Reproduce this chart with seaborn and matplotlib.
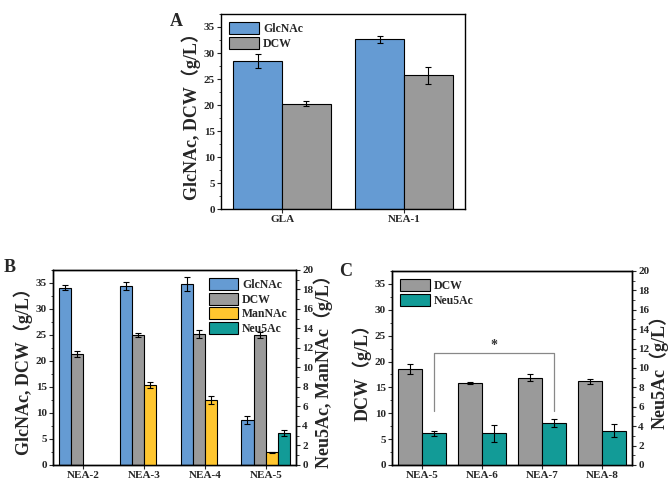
import numpy as np
import pandas as pd
import matplotlib
matplotlib.use("Agg")
import matplotlib.pyplot as plt
from matplotlib.patches import Patch
from matplotlib.ticker import MultipleLocator
import seaborn as sns

# Panel A
a_strains = ["GLA", "NEA-1"]
a_glcnac = [28.5, 32.6]
a_glcnac_err = [1.3, 0.7]
a_dcw = [20.3, 25.7]
a_dcw_err = [0.5, 1.7]

# Panel B (GlcNAc/DCW left axis, ManNAc/Neu5Ac right axis)
b_strains = ["NEA-2", "NEA-3", "NEA-4", "NEA-5"]
b_glcnac = [34.1, 34.4, 34.8, 8.6]
b_glcnac_err = [0.5, 0.8, 1.3, 0.8]
b_dcw = [21.4, 25.0, 25.2, 25.0]
b_dcw_err = [0.6, 0.3, 0.8, 0.5]
b_mannac = [np.nan, 8.2, 6.65, 1.33]
b_mannac_err = [np.nan, 0.3, 0.4, 0.05]
b_neu5ac = [np.nan, np.nan, np.nan, 3.25]
b_neu5ac_err = [np.nan, np.nan, np.nan, 0.3]

# Panel C (DCW left axis, Neu5Ac right axis)
c_strains = ["NEA-5", "NEA-6", "NEA-7", "NEA-8"]
c_dcw = [18.5, 15.8, 16.9, 16.2]
c_dcw_err = [1.0, 0.2, 0.6, 0.5]
c_neu5ac = [3.25, 3.25, 4.3, 3.55]
c_neu5ac_err = [0.3, 0.9, 0.4, 0.7]

colors = {"GlcNAc": "#659BD3", "DCW": "#9A9A9A",
          "ManNAc": "#FFC62F", "Neu5Ac": "#129B97"}

sns.set_style("ticks")
plt.rcParams["font.family"] = ["Liberation Serif", "Noto Sans CJK SC"]
plt.rcParams["font.weight"] = "bold"
plt.rcParams["axes.linewidth"] = 1.0


def long_df(strains, series):
    rows = []
    for name, (vals, errs) in series.items():
        for s, v, e in zip(strains, vals, errs):
            if not np.isnan(v):
                rows.append({"strain": s, "item": name, "val": v, "err": e})
    return pd.DataFrame(rows)


def bars(ax, df, strains, hue_order):
    sns.barplot(data=df, x="strain", y="val", hue="item", order=strains,
                hue_order=hue_order, palette=colors, saturation=1,
                edgecolor="black", linewidth=0.8, errorbar=None, dodge=True,
                legend=False, width=0.8, ax=ax)
    # error bars placed on the drawn bars
    for p in ax.patches:
        h = p.get_height()
        xc = p.get_x() + p.get_width() / 2
        cat = strains[int(round(xc))]
        m = df[(df["strain"] == cat) & np.isclose(df["val"], h)]
        if len(m):
            ax.errorbar(xc, h, yerr=m["err"].iloc[0], fmt="none",
                        ecolor="black", elinewidth=0.8, capsize=2,
                        capthick=0.8, zorder=5)


def style_axis(ax, ylabel, ylim, major, minor, pad=2):
    ax.set_ylim(*ylim)
    ax.yaxis.set_major_locator(MultipleLocator(major))
    ax.yaxis.set_minor_locator(MultipleLocator(minor))
    ax.set_xlabel("")
    ax.set_ylabel(ylabel, fontsize=13, fontweight="bold", labelpad=pad)
    ax.tick_params(axis="both", which="major", direction="out", length=3,
                   width=0.8, labelsize=8, pad=1.5)
    ax.tick_params(axis="y", which="minor", direction="out", length=1.8,
                   width=0.6)
    for lab in ax.get_xticklabels() + ax.get_yticklabels():
        lab.set_fontweight("bold")
    for sp in ax.spines.values():
        sp.set_visible(True)
        sp.set_color("black")


def legend(ax, names, loc, anchor):
    handles = [Patch(facecolor=colors[n], edgecolor="black", linewidth=0.8,
                     label=n) for n in names]
    ax.legend(handles=handles, loc=loc, bbox_to_anchor=anchor, frameon=False,
              prop={"family": "Liberation Serif", "weight": "bold", "size": 8.5},
              handlelength=2.5, handleheight=1.15, labelspacing=0.15,
              handletextpad=0.35, borderaxespad=0.3)


fig = plt.figure(figsize=(6.72, 4.82), dpi=100)
ylab_left = "GlcNAc, DCW（g/L）"

# ---- A ----
axA = fig.add_axes([0.329, 0.566, 0.363, 0.405])
dfA = long_df(a_strains, {"GlcNAc": (a_glcnac, a_glcnac_err),
                          "DCW": (a_dcw, a_dcw_err)})
bars(axA, dfA, a_strains, ["GlcNAc", "DCW"])
axA.set_xlim(-0.5, 1.5)
style_axis(axA, ylab_left, (0, 37.5), 5, 2.5)
legend(axA, ["GlcNAc", "DCW"], "upper left", (0.0, 1.0))
fig.text(0.253, 0.972, "A", fontsize=13, fontweight="bold", va="top")

# ---- B ----
axB = fig.add_axes([0.079, 0.0353, 0.3616, 0.4046])
axB2 = axB.twinx()
hueB = ["GlcNAc", "DCW", "ManNAc", "Neu5Ac"]
dfB1 = long_df(b_strains, {"GlcNAc": (b_glcnac, b_glcnac_err),
                           "DCW": (b_dcw, b_dcw_err)})
dfB2 = long_df(b_strains, {"ManNAc": (b_mannac, b_mannac_err),
                           "Neu5Ac": (b_neu5ac, b_neu5ac_err)})
bars(axB, dfB1, b_strains, hueB)
bars(axB2, dfB2, b_strains, hueB)
axB.set_xlim(-0.5, 3.5)
style_axis(axB, ylab_left, (0, 37.5), 5, 2.5)
style_axis(axB2, "Neu5Ac, ManNAc（g/L）", (0, 20), 2, 1, pad=0)
legend(axB2, hueB, "upper right", (1.0, 1.0))
fig.text(0.005, 0.462, "B", fontsize=13, fontweight="bold", va="top")

# ---- C ----
axC = fig.add_axes([0.5833, 0.0353, 0.357, 0.4025])
axC2 = axC.twinx()
hueC = ["DCW", "Neu5Ac"]
dfC1 = long_df(c_strains, {"DCW": (c_dcw, c_dcw_err)})
dfC2 = long_df(c_strains, {"Neu5Ac": (c_neu5ac, c_neu5ac_err)})
bars(axC, dfC1, c_strains, hueC)
bars(axC2, dfC2, c_strains, hueC)
axC.set_xlim(-0.5, 3.5)
style_axis(axC, "DCW（g/L）", (0, 37.5), 5, 2.5)
style_axis(axC2, "Neu5Ac（g/L）", (0, 20), 2, 1, pad=0)
legend(axC2, hueC, "upper left", (0.0, 1.0))
fig.text(0.505, 0.455, "C", fontsize=13, fontweight="bold", va="top")

# significance bracket between NEA-5 and NEA-7 Neu5Ac bars
centers = sorted(p.get_x() + p.get_width() / 2 for p in axC2.patches
                 if p.get_height() > 0)
x1, x2 = centers[0], centers[2]
axC2.plot([x1, x1, x2, x2], [5.55, 11.5, 11.5, 5.55], color="#888888",
          linewidth=0.9, zorder=6)
axC2.text((x1 + x2) / 2, 11.6, "*", ha="center", va="bottom", fontsize=10,
          color="#333333")

fig.savefig("out.png", dpi=100)
